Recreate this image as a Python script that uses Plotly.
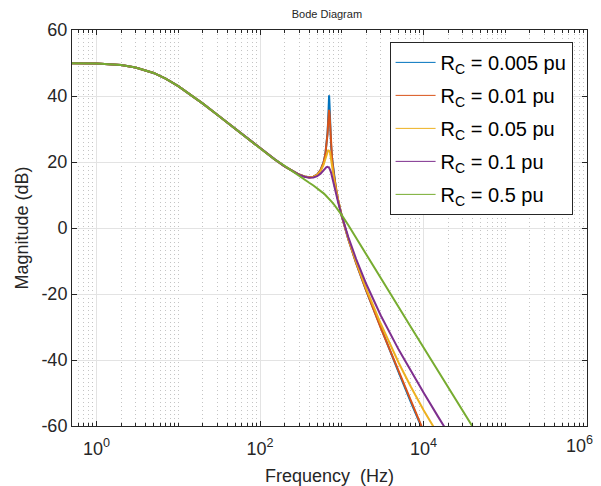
import plotly.graph_objects as go

# frequency points (Hz) shared by all curves
freq_hz = [0.3, 0.5, 1, 2, 3, 5, 7, 10, 15, 20, 30, 50, 70, 100, 150, 200, 250, 300,
           350, 400, 450, 500, 550, 600, 630, 650, 670, 680, 690, 695, 700, 705, 710,
           720, 740, 760, 800, 850, 900, 1000, 1200, 1500, 2000, 3000, 5000, 7000,
           10000, 15000, 20000, 30000, 50000, 100000]

# common low-frequency part (up to 100 Hz)
low_db = [49.98, 49.96, 49.83, 49.36, 48.66, 46.99, 45.29, 43.01, 40.0, 37.7, 34.3,
          29.96, 27.06, 24.14]

mag_rc_0005 = low_db + [20.86, 18.70, 17.20, 16.20, 15.60, 15.37, 15.55, 16.20, 17.51,
                        19.95, 22.41, 24.94, 28.87, 32.07, 37.2, 39.0, 40.2, 38.6, 36.8,
                        31.30, 25.11, 21.31, 16.20, 11.87, 8.59, 3.63, -3.35, -10.65,
                        -19.14, -30.35, -43.94, -52.75, -62.0, -72.4, -79.6, -89.5,
                        -101.1, -115.2]
mag_rc_001 = low_db + [20.86, 18.70, 17.20, 16.20, 15.60, 15.37, 15.55, 16.20, 17.51,
                       19.91, 22.34, 24.78, 28.56, 31.41, 34.6, 35.6, 35.8, 35.3, 34.4,
                       30.60, 24.92, 21.19, 16.16, 11.85, 8.58, 3.63, -3.35, -10.64,
                       -19.10, -30.29, -43.81, -52.50, -61.53, -71.4, -78.1, -87.0,
                       -97.2, -109.9]
mag_rc_005 = low_db + [20.85, 18.70, 17.20, 16.20, 15.58, 15.34, 15.49, 16.06, 17.22,
                       19.20, 20.90, 22.24, 23.3, 23.5, 23.5, 23.5, 23.5, 23.4, 23.3,
                       22.8, 21.15, 19.05, 15.26, 11.46, 8.41, 3.65, -3.18, -10.31,
                       -18.51, -29.02, -40.97, -48.12, -55.18, -62.76, -67.97, -75.16,
                       -84.11, -96.2]
mag_rc_01 = low_db + [20.86, 18.70, 17.19, 16.17, 15.53, 15.24, 15.30, 15.70, 16.47,
                      17.59, 18.20, 18.45, 18.55, 18.55, 18.45, 18.35, 18.27, 18.15, 17.95,
                      17.62, 16.80, 15.75, 13.43, 10.55, 7.97, 3.67, -2.70, -9.43,
                      -17.05, -26.50, -37.0, -43.38, -49.87, -57.08, -62.14, -69.22,
                      -78.12, -90.2]
mag_rc_05 = low_db + [20.82, 18.80, 17.10, 15.67, 14.61, 13.70, 12.88, 12.08, 11.29,
                      10.50, 10.01, 9.69, 9.36, 9.20, 9.03, 8.95, 8.87, 8.79, 8.69,
                      8.54, 8.20, 7.86, 7.19, 6.36, 5.52, 3.91, 0.91, -2.94,
                      -8.02, -15.16, -24.11, -29.98, -36.19, -43.23, -48.24, -55.28,
                      -64.15, -76.2]

series_names = ["R<sub>C</sub> = 0.005 pu", "R<sub>C</sub> = 0.01 pu",
                "R<sub>C</sub> = 0.05 pu", "R<sub>C</sub> = 0.1 pu",
                "R<sub>C</sub> = 0.5 pu"]
series_values = [mag_rc_0005, mag_rc_001, mag_rc_005, mag_rc_01, mag_rc_05]
series_colors = ["#0072BD", "#D95319", "#EDB120", "#7E2F8E", "#77AC30"]

x_tick_vals = [1, 100, 10000, 1000000]
x_tick_text = ["10<sup>0</sup>", "10<sup>2</sup>", "10<sup>4</sup>", ""]
last_x_label = "10<sup>6</sup>"  # drawn as an annotation so it is not cut at the edge
y_tick_vals = [-60, -40, -20, 0, 20, 40, 60]
y_tick_text = ["-60", "-40", "-20", "0", "20", "40", "60"]

FONT = "Liberation Sans, Arial, Helvetica, sans-serif"
INK = "#262626"

fig = go.Figure()
for name, values, color in zip(series_names, series_values, series_colors):
    # thick curve in the plot, thin sample line in the legend
    fig.add_trace(go.Scatter(x=freq_hz, y=values, mode="lines", name=name,
                             line=dict(color=color, width=2), showlegend=False))
    fig.add_trace(go.Scatter(x=[None], y=[None], mode="lines", name=name,
                             legendgroup=name, line=dict(color=color, width=1)))

fig.update_xaxes(
    type="log", range=[-0.30, 6],
    tickvals=x_tick_vals, ticktext=x_tick_text,
    ticks="inside", ticklen=5, tickcolor=INK, ticklabelstandoff=6,
    showline=True, linecolor=INK, linewidth=1, mirror="allticks",
    showgrid=True, gridcolor="#e3e3e3", gridwidth=1,
    minor=dict(dtick="D1", ticks="inside", ticklen=3, tickcolor=INK,
               showgrid=True, gridcolor="#c4c4c4", griddash="1px,3px", gridwidth=1),
    zeroline=False,
    tickfont=dict(size=18, color=INK),
    title=dict(text="Frequency  (Hz)", font=dict(size=18, color=INK), standoff=14),
)
fig.update_yaxes(
    range=[-60, 60], tickvals=y_tick_vals, ticktext=y_tick_text,
    ticks="inside", ticklen=5, tickcolor=INK,
    showline=True, linecolor=INK, linewidth=1, mirror="allticks",
    showgrid=True, gridcolor="#e3e3e3", gridwidth=1,
    zeroline=False,
    tickfont=dict(size=18, color=INK),
    title=dict(text="Magnitude (dB)", font=dict(size=18, color=INK), standoff=8),
)

fig.add_annotation(text=last_x_label, xref="paper", yref="paper", x=1.0, y=-0.012,
                   xanchor="center", yanchor="top", xshift=-8, showarrow=False,
                   font=dict(size=18, color=INK))

# the page body adds an 8 px offset, so the margins are trimmed by that amount
fig.update_layout(
    width=593, height=478,
    margin=dict(l=64, r=14, t=22, b=60, autoexpand=False),
    paper_bgcolor="white", plot_bgcolor="white",
    font=dict(family=FONT, color=INK),
    title=dict(text="Bode Diagram", font=dict(size=11, color=INK),
               xref="paper", x=0.495, xanchor="center", y=0.988, yanchor="middle"),
    legend=dict(x=0.972, y=0.97, xanchor="right", yanchor="top",
                bgcolor="white", bordercolor=INK, borderwidth=1,
                font=dict(size=20, color="black"), tracegroupgap=4, itemwidth=40),
    showlegend=True,
)

fig.write_html("out.html")
